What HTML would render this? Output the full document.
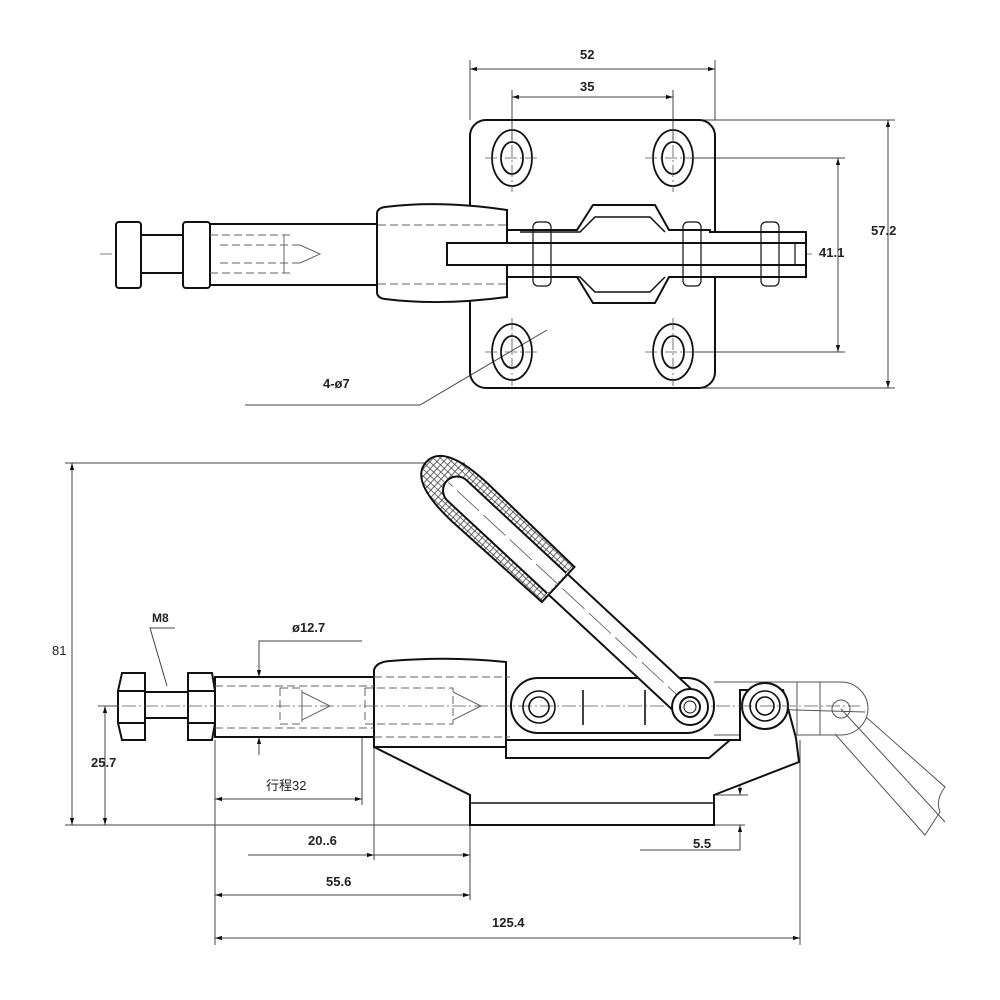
<!DOCTYPE html>
<html><head><meta charset="utf-8"><style>
html,body{margin:0;padding:0;background:#fff;}
svg{display:block;}
text{font-family:"Liberation Sans","Noto Sans CJK SC",sans-serif;font-size:13px;font-weight:bold;fill:#222;}
</style></head><body>
<svg width="1000" height="1000" viewBox="0 0 1000 1000" xmlns="http://www.w3.org/2000/svg">
<defs>
<marker id="a" viewBox="0 0 10 10" refX="10" refY="5" markerWidth="10" markerHeight="7" orient="auto-start-reverse" markerUnits="userSpaceOnUse"><path d="M0,2 L10,5 L0,8 z" fill="#111"/></marker>
<pattern id="h" width="5" height="5" patternUnits="userSpaceOnUse"><rect width="5" height="5" fill="#fff"/><path d="M0,2.5H5M2.5,0V5" stroke="#444" stroke-width="0.8"/></pattern>
</defs>
<g fill="none" stroke="#111">
<!-- ===== TOP VIEW ===== -->
<g stroke-width="1" stroke="#444">
<line x1="470" y1="60" x2="470" y2="120"/><line x1="715" y1="60" x2="715" y2="120"/>
<line x1="470" y1="69" x2="715" y2="69" marker-start="url(#a)" marker-end="url(#a)"/>
<line x1="512" y1="90" x2="512" y2="140"/><line x1="673" y1="90" x2="673" y2="140"/>
<line x1="512" y1="97" x2="673" y2="97" marker-start="url(#a)" marker-end="url(#a)"/>
<line x1="700" y1="120" x2="895" y2="120"/><line x1="700" y1="388" x2="895" y2="388"/>
<line x1="888" y1="120" x2="888" y2="388" marker-start="url(#a)" marker-end="url(#a)"/>
<line x1="690" y1="158" x2="845" y2="158"/><line x1="690" y1="352" x2="845" y2="352"/>
<line x1="838" y1="158" x2="838" y2="352" marker-start="url(#a)" marker-end="url(#a)"/>
<polyline points="547,330 420,405 245,405"/>
</g>
<rect x="470" y="120" width="245" height="268" rx="16" stroke-width="2"/>
<g stroke-width="1.8">
<ellipse cx="512" cy="158" rx="20" ry="28"/><ellipse cx="512" cy="158" rx="11" ry="16"/>
<ellipse cx="673" cy="158" rx="20" ry="28"/><ellipse cx="673" cy="158" rx="11" ry="16"/>
<ellipse cx="512" cy="352" rx="20" ry="28"/><ellipse cx="512" cy="352" rx="11" ry="16"/>
<ellipse cx="673" cy="352" rx="20" ry="28"/><ellipse cx="673" cy="352" rx="11" ry="16"/>
</g>
<g stroke-width="0.8" stroke="#555" stroke-dasharray="12,3,2,3">
<line x1="485" y1="158" x2="540" y2="158"/><line x1="512" y1="125" x2="512" y2="192"/>
<line x1="645" y1="158" x2="700" y2="158"/><line x1="673" y1="125" x2="673" y2="192"/>
<line x1="485" y1="352" x2="540" y2="352"/><line x1="512" y1="318" x2="512" y2="386"/>
<line x1="645" y1="352" x2="700" y2="352"/><line x1="673" y1="318" x2="673" y2="386"/>
<line x1="100" y1="254" x2="815" y2="254"/>
</g>
<g stroke-width="2" fill="#fff">
<rect x="116" y="222" width="25" height="66" rx="3"/>
<rect x="141" y="235" width="42" height="38"/>
<rect x="183" y="222" width="27" height="66" rx="3"/>
<rect x="210" y="224" width="168" height="61"/>
<path d="M377,214 Q377,208 385,207 Q440,200 507,210 L507,297 Q440,306 385,299 Q377,298 377,292 Z"/>
<path d="M507,230 H577 L593,205 H655 L669,230 H710 V232 H806 V277 H710 L669,277 L655,303 H593 L577,277 H507 Z"/>
<path d="M520,232 H580 L595,217 H650 L665,232 M520,277 H580 L595,292 H650 L665,277" fill="none" stroke-width="1.5"/>
<rect x="447" y="243" width="359" height="22"/>
</g>
<g stroke-width="1.2">
<rect x="533" y="222" width="18" height="64" rx="5" fill="none"/>
<rect x="683" y="222" width="18" height="64" rx="5" fill="none"/>
<rect x="761" y="222" width="18" height="64" rx="5" fill="none"/>
<line x1="795" y1="243" x2="795" y2="265"/>
</g>
<g stroke-width="1" stroke="#666" stroke-dasharray="8,4">
<line x1="210" y1="235" x2="290" y2="235"/><line x1="210" y1="273" x2="290" y2="273"/>
<line x1="220" y1="245" x2="300" y2="245"/><line x1="220" y1="263" x2="300" y2="263"/>
<line x1="378" y1="225" x2="507" y2="225"/><line x1="378" y1="284" x2="507" y2="284"/>
<path d="M300,245 L320,254 L300,263" stroke-dasharray="none"/>
<line x1="284" y1="235" x2="284" y2="273" stroke-dasharray="none"/>
</g>
<!-- ===== SIDE VIEW ===== -->
<g stroke-width="1" stroke="#444">
<line x1="65" y1="463" x2="465" y2="463"/>
<line x1="65" y1="825" x2="745" y2="825"/>
<line x1="72" y1="463" x2="72" y2="825" marker-start="url(#a)" marker-end="url(#a)"/>
<line x1="98" y1="706" x2="125" y2="706"/>
<line x1="105" y1="706" x2="105" y2="825" marker-start="url(#a)" marker-end="url(#a)"/>
<polyline points="175,628 150,628 167,686"/>
<polyline points="362,641 259,641 259,737"/>
<line x1="259" y1="660" x2="259" y2="677" marker-end="url(#a)"/>
<line x1="259" y1="755" x2="259" y2="737" marker-end="url(#a)"/>
<line x1="215" y1="740" x2="215" y2="945"/>
<line x1="362" y1="700" x2="362" y2="805"/>
<line x1="215" y1="799" x2="362" y2="799" marker-start="url(#a)" marker-end="url(#a)"/>
<line x1="374" y1="737" x2="374" y2="860"/>
<line x1="470" y1="825" x2="470" y2="900"/>
<line x1="248" y1="855" x2="374" y2="855" marker-end="url(#a)"/>
<line x1="374" y1="855" x2="470" y2="855" marker-end="url(#a)"/>
<line x1="215" y1="895" x2="470" y2="895" marker-start="url(#a)" marker-end="url(#a)"/>
<line x1="800" y1="740" x2="800" y2="945"/>
<line x1="215" y1="938" x2="800" y2="938" marker-start="url(#a)" marker-end="url(#a)"/>
<line x1="714" y1="795" x2="748" y2="795"/>
<line x1="740" y1="775" x2="740" y2="795" marker-end="url(#a)"/>
<line x1="740" y1="850" x2="740" y2="825" marker-end="url(#a)"/>
<line x1="640" y1="850" x2="740" y2="850"/>
</g>
<!-- ghost link -->
<g stroke-width="1" stroke="#555">
<path d="M714,682 H841 A27,27 0 0 1 868,709 A27,27 0 0 1 841,735 H714"/>
<circle cx="841" cy="709" r="9"/>
<line x1="760" y1="709" x2="865" y2="712"/>
<path d="M866,717 L945,787 Q935,800 940,812 L925,835 L835,734"/>
<line x1="841" y1="709" x2="945" y2="822"/>
<line x1="797" y1="682" x2="797" y2="735"/><line x1="820" y1="682" x2="820" y2="735"/>
</g>
<!-- body -->
<g stroke-width="2" fill="#fff">
<path d="M374,747 L470,795 V825 H714 V795 L799,762 L796,738 L783,690 L740,690 L740,740 H506 V747 Z"/>
<line x1="470" y1="803" x2="714" y2="803" stroke-width="1.5"/>
<path d="M506,747 V758 H709 L730,740" fill="none"/>
<polygon points="122,673 145,673 145,740 122,740 118,723 118,691"/>
<line x1="118" y1="691" x2="145" y2="691"/><line x1="118" y1="723" x2="145" y2="723"/>
<rect x="145" y="692" width="43" height="26"/>
<polygon points="188,673 212,673 215,691 215,723 212,740 188,740"/>
<line x1="188" y1="691" x2="215" y2="691"/><line x1="188" y1="723" x2="215" y2="723"/>
<rect x="215" y="677" width="159" height="60"/>
<path d="M374,670 Q376,662 390,661 Q450,656 506,662 V747 H374 Z"/>
<rect x="511" y="678" width="203" height="55" rx="27"/>
<circle cx="765" cy="706" r="23"/>
</g>
<g stroke-width="1" stroke="#666" stroke-dasharray="8,4">
<line x1="215" y1="686" x2="374" y2="686"/><line x1="215" y1="728" x2="374" y2="728"/>
<rect x="280" y="688" width="22" height="36"/>
<path d="M302,692 L330,706 L302,720 Z" stroke-dasharray="none"/>
<rect x="365" y="688" width="88" height="36"/>
<path d="M453,692 L481,706 L453,720" stroke-dasharray="none"/>
<line x1="374" y1="677" x2="510" y2="677"/><line x1="374" y1="737" x2="510" y2="737"/>
</g>
<g stroke-width="0.8" stroke="#555" stroke-dasharray="14,3,2,3">
<line x1="100" y1="706" x2="860" y2="706"/>
</g>
<g stroke-width="1.6">
<line x1="583" y1="690" x2="583" y2="725"/><line x1="645" y1="690" x2="645" y2="725"/>
<circle cx="539" cy="707" r="16"/><circle cx="539" cy="707" r="10"/>
<circle cx="765" cy="706" r="15"/><circle cx="765" cy="706" r="9"/>
</g>
<!-- handle -->
<g transform="translate(690,707) rotate(-137.1)" stroke-width="2">
<rect x="0" y="-14" width="240" height="28" fill="#fff"/>
<path d="M180,-24 L300,-26 Q360,-26 360,0 Q360,26 300,26 L180,24 Z" fill="url(#h)"/>
<path d="M182,-14 L318,-14 A14,14 0 0 1 318,14 L182,14" fill="#fff"/>
<line x1="0" y1="0" x2="330" y2="0" stroke-width="0.8" stroke="#555" stroke-dasharray="30,6"/>
<circle cx="0" cy="0" r="18" fill="#fff"/>
<circle cx="0" cy="0" r="10" fill="#fff"/><circle cx="0" cy="0" r="6" stroke-width="1"/>
</g>
</g>
<!-- labels -->
<text x="580" y="59">52</text>
<text x="580" y="91">35</text>
<text x="871" y="235">57.2</text>
<text x="819" y="257">41.1</text>
<text x="323" y="388">4-ø7</text>
<text x="52" y="655" style="font-weight:normal">81</text>
<text x="152" y="622" style="font-size:12px">M8</text>
<text x="292" y="632">ø12.7</text>
<text x="91" y="767">25.7</text>
<text x="266" y="790" style="font-weight:normal">行程32</text>
<text x="308" y="845">20..6</text>
<text x="326" y="886">55.6</text>
<text x="693" y="848">5.5</text>
<text x="492" y="927">125.4</text>
</svg>
</body></html>
